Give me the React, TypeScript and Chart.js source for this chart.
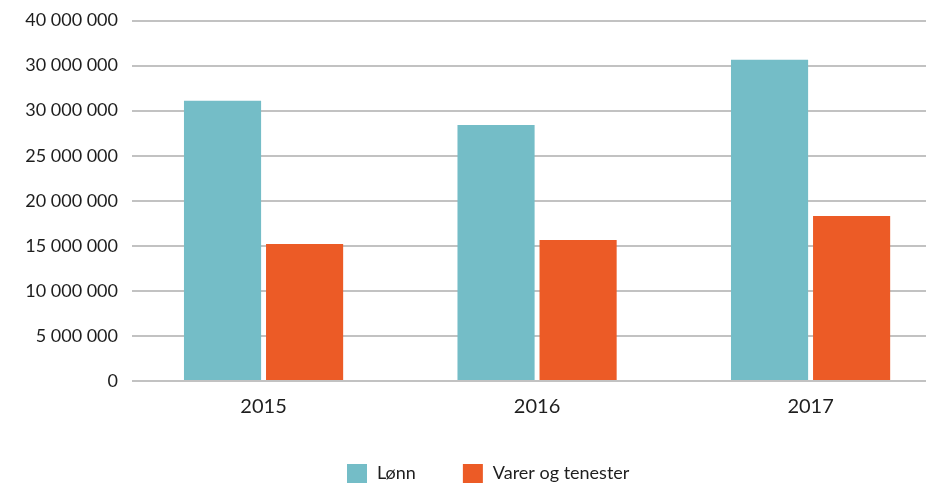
import React, { useEffect, useRef } from "react";
import { Chart, registerables } from "chart.js";

Chart.register(...registerables);

const years = [2015, 2016, 2017];
const seriesNames = ["Lønn", "Varer og tenester"];
const lonn = [31100000, 28400000, 35650000];
const varer = [15200000, 15650000, 18300000];
const yTickLabels = [
  "0",
  "5 000 000",
  "10 000 000",
  "15 000 000",
  "20 000 000",
  "25 000 000",
  "30 000 000",
  "30 000 000",
  "40 000 000",
];
const seriesColors = ["#74BDC7", "#EC5B26"];

const FONT = "Lato, 'Open Sans', sans-serif";
const TEXT = "#1e1e1e";

const legendPlugin = {
  id: "customLegend",
  afterDraw(chart: any, _args: any, opts: any) {
    const ctx = chart.ctx;
    ctx.save();
    ctx.font = `${opts.fontSize}px ${FONT}`;
    ctx.textBaseline = "middle";
    ctx.textAlign = "left";
    let x = opts.x;
    const y = opts.y;
    chart.data.datasets.forEach((ds: any) => {
      ctx.fillStyle = ds.backgroundColor;
      ctx.fillRect(x, y - opts.boxH / 2, opts.boxW, opts.boxH);
      x += opts.boxW + opts.textGap;
      ctx.fillStyle = TEXT;
      ctx.fillText(ds.label, x, y);
      x += ctx.measureText(ds.label).width + opts.itemGap;
    });
    ctx.restore();
  },
};

export default function App() {
  const ref = useRef<HTMLCanvasElement>(null);

  useEffect(() => {
    if (!ref.current) return;
    const chart = new Chart(ref.current, {
      type: "bar",
      data: {
        labels: years,
        datasets: [
          {
            label: seriesNames[0],
            data: lonn,
            backgroundColor: seriesColors[0],
            borderWidth: 0,
            categoryPercentage: 0.6,
            barPercentage: 0.94,
          },
          {
            label: seriesNames[1],
            data: varer,
            backgroundColor: seriesColors[1],
            borderWidth: 0,
            categoryPercentage: 0.6,
            barPercentage: 0.94,
          },
        ],
      },
      options: {
        animation: false,
        responsive: false,
        devicePixelRatio: 1,
        layout: { padding: { top: 20.5, right: 0, left: 0, bottom: 60 } },
        plugins: {
          legend: { display: false },
          tooltip: { enabled: false },
          customLegend: {
            x: 347,
            y: 473.5,
            boxW: 20,
            boxH: 19,
            textGap: 10,
            itemGap: 47,
            fontSize: 18,
          },
        } as any,
        scales: {
          x: {
            type: "linear",
            min: 2014.519,
            max: 2017.422,
            offset: false,
            grid: { display: false },
            border: { display: false },
            afterBuildTicks: (s: any) => {
              s.ticks = years.map((v) => ({ value: v }));
            },
            ticks: {
              callback: (v: any) => String(v),
              font: { size: 20, family: FONT },
              color: TEXT,
              padding: 6,
              maxRotation: 0,
              autoSkip: false,
            },
          },
          y: {
            min: 0,
            max: 40000000,
            afterFit: (s: any) => {
              s.width = 132;
              s.paddingTop = 0;
            },
            grid: { color: "#c2c2c2", lineWidth: 2, drawTicks: false },
            border: { display: false },
            ticks: {
              stepSize: 5000000,
              callback: (_v: any, i: number) => yTickLabels[i],
              font: { size: 18, family: FONT },
              color: TEXT,
              padding: 14,
            },
          },
        },
      },
      plugins: [legendPlugin],
    });
    return () => chart.destroy();
  }, []);

  return (
    <div style={{ position: "absolute", left: 0, top: 0, width: 926, height: 485 }}>
      <canvas ref={ref} width={926} height={485} style={{ display: "block" }} />
    </div>
  );
}
